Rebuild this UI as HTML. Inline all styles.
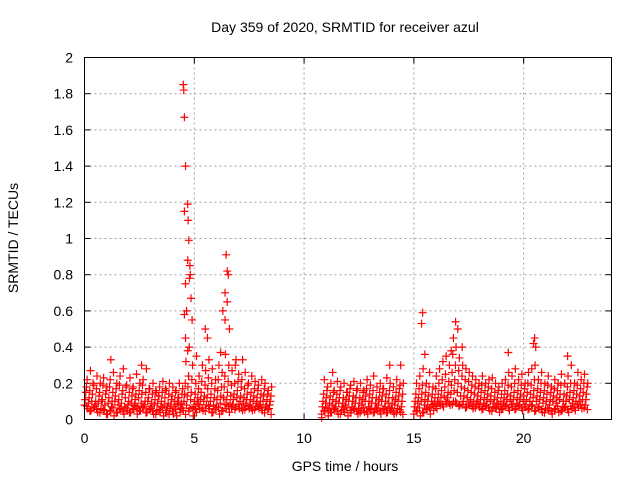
<!DOCTYPE html>
<html><head><meta charset="utf-8"><style>
body{margin:0;background:#fff;}
svg{display:block;font-family:"Liberation Sans",sans-serif;}
</style></head><body>
<svg id="chart" width="640" height="480">
<text x="345" y="32" text-anchor="middle" font-size="14">Day 359 of 2020, SRMTID for receiver azul</text>
<text transform="translate(18,238) rotate(-90)" text-anchor="middle" font-size="14">SRMTID / TECUs</text>
<text x="345" y="471" text-anchor="middle" font-size="14">GPS time / hours</text>
<g id="grid"></g><g id="ticks"></g><g id="marks"></g>
<rect x="84.5" y="57.5" width="527" height="362" fill="none" stroke="#000"/>
</svg>
<script>
const xTicks=[0,5,10,15,20];
const yTicks=[0,0.2,0.4,0.6,0.8,1,1.2,1.4,1.6,1.8,2];
const yTickLabels=["0","0.2","0.4","0.6","0.8","1","1.2","1.4","1.6","1.8","2"];
const times=[0,0.15,0.3,0.45,0.6,0.75,0.9,1.05,1.2,1.35,1.5,1.65,1.8,1.95,2.1,2.25,2.4,2.55,2.7,2.85,3,3.15,3.3,3.45,3.6,3.75,3.9,4.05,4.2,4.35,4.5,4.65,4.8,4.95,5.1,5.25,5.4,5.55,5.7,5.85,6,6.15,6.3,6.45,6.6,6.75,6.9,7.05,7.2,7.35,7.5,7.65,7.8,7.95,8.1,8.25,8.4,
10.8,10.95,11.1,11.25,11.4,11.55,11.7,11.85,12,12.15,12.3,12.45,12.6,12.75,12.9,13.05,13.2,13.35,13.5,13.65,13.8,13.95,14.1,14.25,14.4,
15,15.15,15.3,15.45,15.6,15.75,15.9,16.05,16.2,16.35,16.5,16.65,16.8,16.95,17.1,17.25,17.4,17.55,17.7,17.85,18,18.15,18.3,18.45,18.6,18.75,18.9,19.05,19.2,19.35,19.5,19.65,19.8,19.95,20.1,20.25,20.4,20.55,20.7,20.85,21,21.15,21.3,21.45,21.6,21.75,21.9,22.05,22.2,22.35,22.5,22.65,22.8];
const lowVals=[0.08,0.06,0.05,0.07,0.04,0.06,0.05,0.03,0.05,0.02,0.04,0.06,0.03,0.05,0.04,0.06,0.03,0.05,0.07,0.04,0.06,0.03,0.05,0.04,0.02,0.05,0.06,0.03,0.02,0.04,0.05,0.08,0.06,0.02,0.04,0.06,0.05,0.08,0.06,0.04,0.07,0.03,0.05,0.06,0.04,0.08,0.07,0.06,0.05,0.08,0.06,0.05,0.07,0.06,0.05,0.07,0.06,
0.03,0.05,0.02,0.04,0.06,0.03,0.05,0.04,0.02,0.05,0.06,0.03,0.05,0.04,0.03,0.06,0.04,0.05,0.03,0.06,0.04,0.05,0.03,0.06,0.04,
0.03,0.05,0.02,0.04,0.06,0.03,0.05,0.06,0.08,0.07,0.09,0.08,0.1,0.09,0.08,0.1,0.07,0.08,0.06,0.09,0.07,0.06,0.08,0.05,0.07,0.06,0.04,0.06,0.08,0.05,0.07,0.06,0.08,0.05,0.07,0.06,0.08,0.05,0.07,0.04,0.06,0.05,0.03,0.06,0.04,0.05,0.07,0.04,0.06,0.05,0.07,0.06,0.08];
const midVals=[0.15,0.12,0.14,0.1,0.13,0.11,0.14,0.12,0.1,0.13,0.11,0.14,0.12,0.1,0.13,0.11,0.12,0.14,0.1,0.12,0.09,0.11,0.13,0.1,0.12,0.09,0.11,0.1,0.12,0.09,0.14,0.18,0.15,0.1,0.12,0.15,0.13,0.17,0.14,0.12,0.16,0.13,0.18,0.15,0.13,0.14,0.16,0.13,0.12,0.14,0.11,0.13,0.12,0.1,0.13,0.11,0.1,
0.1,0.12,0.09,0.11,0.1,0.12,0.09,0.11,0.13,0.1,0.12,0.09,0.11,0.13,0.1,0.12,0.09,0.11,0.13,0.1,0.12,0.09,0.11,0.13,0.1,
0.1,0.12,0.14,0.11,0.13,0.1,0.12,0.14,0.16,0.18,0.15,0.19,0.22,0.2,0.18,0.17,0.16,0.15,0.14,0.13,0.15,0.12,0.14,0.13,0.11,0.12,0.1,0.12,0.14,0.13,0.15,0.12,0.14,0.13,0.15,0.14,0.16,0.13,0.15,0.12,0.14,0.11,0.13,0.12,0.14,0.1,0.13,0.15,0.12,0.14,0.13,0.15,0.14];
const highVals=[0.22,0.27,0.19,0.24,0.2,0.23,0.18,0.22,0.26,0.2,0.24,0.28,0.19,0.23,0.18,0.25,0.2,0.22,0.28,0.17,0.2,0.15,0.18,0.21,0.16,0.2,0.18,0.16,0.2,0.17,0.32,0.4,0.3,0.2,0.24,0.3,0.27,0.33,0.28,0.22,0.3,0.26,0.36,0.3,0.27,0.3,0.25,0.22,0.26,0.2,0.24,0.21,0.19,0.22,0.2,0.16,0.18,
0.22,0.18,0.2,0.16,0.21,0.18,0.2,0.15,0.19,0.21,0.17,0.2,0.16,0.22,0.19,0.24,0.18,0.2,0.17,0.23,0.2,0.18,0.22,0.19,0.2,
0.2,0.24,0.28,0.2,0.26,0.18,0.24,0.28,0.32,0.35,0.3,0.36,0.4,0.34,0.3,0.28,0.26,0.24,0.22,0.2,0.24,0.2,0.22,0.23,0.2,0.18,0.2,0.22,0.26,0.24,0.28,0.22,0.25,0.2,0.26,0.28,0.3,0.22,0.26,0.2,0.24,0.18,0.22,0.2,0.25,0.2,0.24,0.3,0.2,0.26,0.22,0.25,0.2];
const extraValsA=[0.18,0.16,0.2,0.17,0.15,0.19,0.16,0.18,0.15,0.17,0.19,0.16,0.18,0.15,0.17,0.14,0.16,0.19,0.15,0.17,0.14,0.16,0.13,0.15,0.17,0.14,0.13,0.15,0.12,0.14,0.2,0.24,0.22,0.14,0.17,0.21,0.19,0.23,0.2,0.17,0.22,0.18,0.24,0.21,0.19,0.2,0.21,0.18,0.17,0.19,0.15,0.17,0.16,0.14,0.17,0.14,0.13,
0.14,0.16,0.13,0.15,0.14,0.16,0.12,0.15,0.17,0.13,0.16,0.12,0.15,0.17,0.14,0.16,0.12,0.15,0.17,0.14,0.16,0.12,0.15,0.17,0.14,
0.14,0.17,0.19,0.15,0.18,0.14,0.17,0.2,0.22,0.25,0.21,0.26,0.3,0.27,0.24,0.22,0.21,0.19,0.18,0.17,0.19,0.16,0.18,0.17,0.15,0.16,0.14,0.16,0.19,0.18,0.2,0.16,0.19,0.17,0.2,0.19,0.22,0.17,0.2,0.16,0.19,0.15,0.17,0.16,0.19,0.14,0.18,0.2,0.16,0.19,0.17,0.2,0.18];
const extraValsB=[0.11,0.09,0.1,0.08,0.09,0.1,0.08,0.09,0.07,0.1,0.08,0.09,0.07,0.08,0.09,0.08,0.07,0.09,0.08,0.1,0.07,0.08,0.09,0.07,0.08,0.07,0.08,0.07,0.09,0.06,0.1,0.13,0.11,0.07,0.09,0.11,0.1,0.12,0.1,0.08,0.11,0.09,0.12,0.11,0.09,0.11,0.12,0.1,0.09,0.11,0.08,0.1,0.09,0.08,0.1,0.08,0.08,
0.07,0.09,0.06,0.08,0.07,0.09,0.07,0.08,0.1,0.07,0.09,0.06,0.08,0.1,0.07,0.09,0.06,0.08,0.1,0.07,0.09,0.06,0.08,0.1,0.07,
0.07,0.09,0.1,0.08,0.1,0.07,0.09,0.1,0.12,0.13,0.12,0.14,0.16,0.15,0.13,0.13,0.12,0.11,0.1,0.1,0.11,0.09,0.11,0.1,0.09,0.09,0.07,0.09,0.11,0.1,0.11,0.09,0.11,0.1,0.11,0.1,0.12,0.1,0.11,0.09,0.1,0.08,0.1,0.09,0.11,0.07,0.1,0.11,0.09,0.1,0.1,0.11,0.11];
const spikeTimes=[4.5,4.52,4.55,4.6,4.55,4.7,4.72,4.75,4.7,4.8,4.82,4.78,4.6,4.65,4.55,4.85,4.9,4.6,4.7,5.5,5.6,6.3,6.4,6.5,6.45,6.5,6.55,6.4,6.6,6.2,5.1,15.4,15.35,16.8,16.9,17,17.2,20.5,20.45,19.3,22,1.2,2.6,13.9,11.3,7.2,6.9,15.5,16.7,20.55,10.8,14.4];
const spikeVals=[1.85,1.82,1.67,1.4,1.15,1.19,1.1,0.99,0.88,0.85,0.8,0.78,0.75,0.6,0.58,0.67,0.55,0.45,0.38,0.5,0.45,0.6,0.7,0.65,0.91,0.82,0.8,0.55,0.5,0.37,0.35,0.59,0.53,0.45,0.54,0.5,0.4,0.45,0.42,0.37,0.35,0.33,0.3,0.3,0.26,0.33,0.33,0.36,0.38,0.4,0.01,0.3];
const NS="http://www.w3.org/2000/svg";
const X0=84.5,X1=611.5,Y0=419.5,Y1=57.5;
function xs(v){return X0+v/24*(X1-X0);}
function ys(v){return Y0-v/2*(Y0-Y1);}
function mk(t,a,p){const e=document.createElementNS(NS,t);for(const k in a)e.setAttribute(k,a[k]);p.appendChild(e);return e;}
const grid=document.getElementById('grid'),ticks=document.getElementById('ticks'),marks=document.getElementById('marks');
yTicks.forEach((v,i)=>{const y=ys(v);
 if(i>0&&i<yTicks.length-1){const g=mk('line',{x1:X0,x2:X1,y1:y,y2:y,stroke:'#a0a0a0','stroke-dasharray':'2,3'},grid);
 
 }
 mk('line',{x1:X0,x2:X0+6,y1:y,y2:y,stroke:'#000'},ticks);
 mk('line',{x1:X1,x2:X1-6,y1:y,y2:y,stroke:'#000'},ticks);
 const t=mk('text',{x:73,y:y+5,'text-anchor':'end','font-size':'14'},ticks);t.textContent=yTickLabels[i];
 
 });
xTicks.forEach((v,i)=>{const x=xs(v);
 if(i>0){const g=mk('line',{x1:x,x2:x,y1:Y0,y2:Y1,stroke:'#a0a0a0','stroke-dasharray':'2,3'},grid);
 
 }
 mk('line',{x1:x,x2:x,y1:Y0,y2:Y0-6,stroke:'#000'},ticks);
 mk('line',{x1:x,x2:x,y1:Y1,y2:Y1+6,stroke:'#000'},ticks);
 const t=mk('text',{x:x,y:443,'text-anchor':'middle','font-size':'14'},ticks);t.textContent=String(v);
 
 });
function plus(t,v){const x=xs(t),y=ys(v);
 const p=mk('path',{d:`M${x-4},${y}h8M${x},${y-4}v8`,stroke:'#ff0000','stroke-width':'1.2',fill:'none'},marks);
 
 }
times.forEach((t,i)=>{
 plus(t,lowVals[i]);plus(t+0.03,extraValsB[i]);plus(t+0.06,midVals[i]);plus(t+0.09,extraValsA[i]);plus(t+0.12,highVals[i]);
 plus(t+0.1,lowVals[(i+3)%times.length]*0.9+0.01);
});
spikeTimes.forEach((t,i)=>plus(t,spikeVals[i]));
</script>
</body></html>
